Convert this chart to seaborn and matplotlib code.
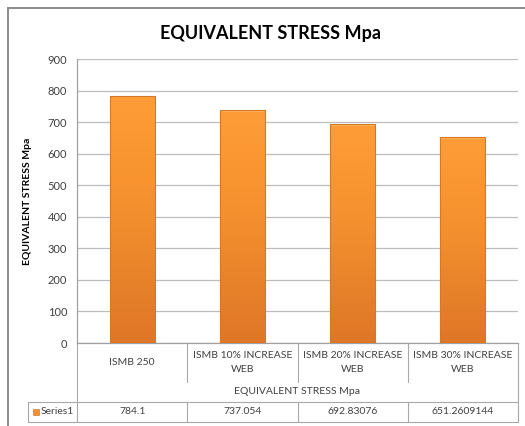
import numpy as np
import pandas as pd
import matplotlib
matplotlib.use("Agg")
import matplotlib.pyplot as plt
import matplotlib.transforms as mtransforms
from matplotlib.colors import LinearSegmentedColormap
from matplotlib.patches import Rectangle
import seaborn as sns

categories = ["ISMB 250", "ISMB 10% INCREASE\nWEB", "ISMB 20% INCREASE\nWEB", "ISMB 30% INCREASE\nWEB"]
values = [784.1, 737.054, 692.83076, 651.2609144]
value_labels = ["784.1", "737.054", "692.83076", "651.2609144"]
series_name = "Series1"
title = "EQUIVALENT STRESS Mpa"
y_ticks = [0, 100, 200, 300, 400, 500, 600, 700, 800, 900]

sns.set_theme(style="white")
plt.rcParams["font.family"] = ["Lato", "DejaVu Sans"]

W, H = 525, 426
fig = plt.figure(figsize=(W / 100, H / 100), dpi=100)
ax = fig.add_axes([77 / W, 1 - 343 / H, (518 - 77) / W, (343 - 59) / H])

df = pd.DataFrame({"cat": categories, "val": values})
sns.barplot(data=df, x="cat", y="val", ax=ax, width=0.41, color="#F29130",
            edgecolor="#CF7428", linewidth=0.7, zorder=3)

# vertical gradient like the Excel bars
cmap = LinearSegmentedColormap.from_list("orng", ["#FE9D38", "#FA9631", "#F38E2E", "#E8822A", "#DF7628"])
grad = np.linspace(0, 1, 256).reshape(-1, 1)
for p in ax.patches[:]:
    x0, w, h = p.get_x(), p.get_width(), p.get_height()
    im = ax.imshow(grad, extent=[x0, x0 + w, 0, h], aspect="auto", cmap=cmap,
                   origin="upper", zorder=3.5)
    im.set_clip_path(p)
    ax.add_patch(Rectangle((x0, h - 5), w, 5, facecolor="#FFB762", edgecolor="none",
                           zorder=3.6, alpha=0.7))
    ax.add_patch(Rectangle((x0, 0), w, h, facecolor="none", edgecolor="#D27A2A",
                           lw=0.8, zorder=3.7))

ax.set_xlim(-0.5, 3.5)
ax.set_ylim(0, 900)
ax.set_yticks(y_ticks)
ax.set_yticklabels([str(t) for t in y_ticks], fontsize=8, color="#404040")
ax.tick_params(axis="y", length=0, pad=7)
ax.yaxis.grid(True, color="#BDBDBD", linewidth=0.9, zorder=0)
ax.set_axisbelow(True)
for s in ["top", "right"]:
    ax.spines[s].set_visible(False)
ax.spines["left"].set_color("#A0A0A0")
ax.spines["bottom"].set_color("#A0A0A0")
ax.spines["left"].set_linewidth(0.9)
ax.spines["bottom"].set_linewidth(0.9)

ax.set_xlabel("")
ax.set_ylabel(title, fontsize=7.5, fontweight="bold", color="#000000", labelpad=11)
ax.set_xticks(range(len(categories)))
ax.set_xticklabels(categories, fontsize=7.5, color="#404040", va="center", linespacing=1.65)
ax.tick_params(axis="x", length=0, pad=14)

fig.text(270 / W, 1 - 33 / H, title, ha="center", va="center", fontsize=13,
         fontweight="bold", color="#000000")

# data table under the axes
px = 1 / (343 - 59)
tr = mtransforms.blended_transform_factory(ax.transData, ax.transAxes)
ax_left = mtransforms.blended_transform_factory(ax.transAxes, ax.transAxes)
lc = "#A8A8A8"
lw = 0.8
y_sep = -(382 - 343) * px
y_row = -(402 - 343) * px
y_bot = -(422 - 343) * px
ax.plot([1, 1], [0, y_bot], transform=ax_left, color=lc, lw=lw, clip_on=False)
ax.plot([0, 0], [0, y_bot], transform=ax_left, color=lc, lw=lw, clip_on=False)
for i in range(1, len(categories)):
    b = i - 0.5
    ax.plot([b, b], [0, y_sep], transform=tr, color=lc, lw=lw, clip_on=False)
    ax.plot([b, b], [y_row, y_bot], transform=tr, color=lc, lw=lw, clip_on=False)
x_tab = (28 - 77) / (518 - 77)
ax.plot([x_tab, 1], [y_row, y_row], transform=ax_left, color=lc, lw=lw, clip_on=False)
ax.plot([x_tab, 1], [y_bot, y_bot], transform=ax_left, color=lc, lw=lw, clip_on=False)
ax.plot([x_tab, x_tab], [y_row, y_bot], transform=ax_left, color=lc, lw=lw, clip_on=False)
ax.text(0.5, -(392 - 343) * px, title, transform=ax_left, ha="center", va="center",
        fontsize=7.5, color="#404040")
y_val = (y_row + y_bot) / 2
for i, lab in enumerate(value_labels):
    ax.text(i, y_val, lab, transform=tr, ha="center", va="center", fontsize=7.5, color="#404040")
ax.add_patch(Rectangle(((33 - 77) / (518 - 77), y_val - 3 * px), 6 / (518 - 77), 6 * px,
                       transform=ax_left, facecolor="#F39030", edgecolor="#C9671C",
                       lw=0.4, clip_on=False))
ax.text((41 - 77) / (518 - 77), y_val, series_name, transform=ax_left, ha="left", va="center",
        fontsize=7.5, color="#404040")

# outer chart border
fig.patches.append(Rectangle((8 / W, -0.1), 1.2, 1 - 8 / H + 0.1, transform=fig.transFigure,
                             fill=False, edgecolor="#8C8C8C", lw=1.4, zorder=10))

fig.savefig("out.png", dpi=100)
